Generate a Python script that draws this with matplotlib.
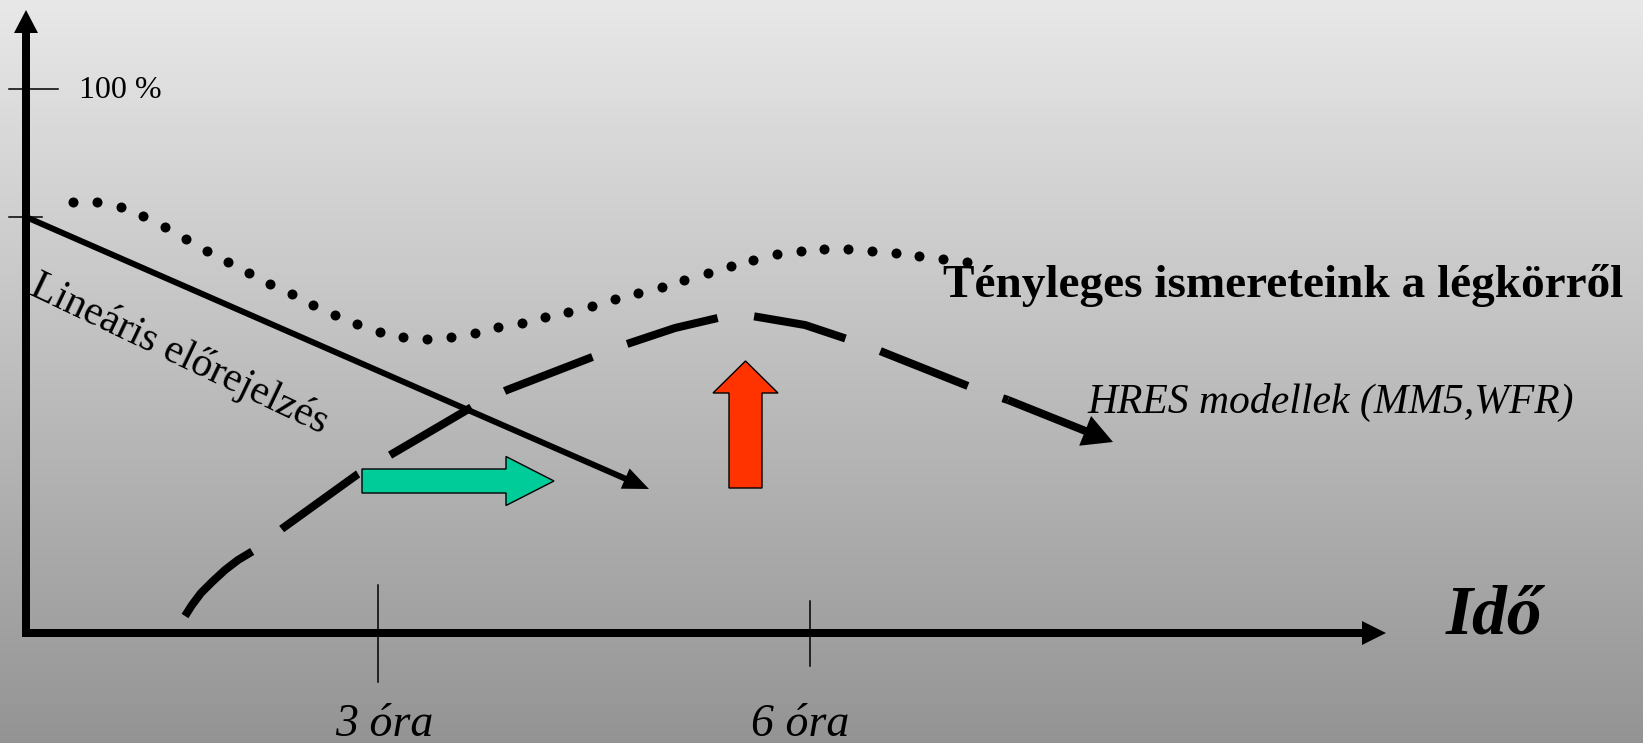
import numpy as np
import matplotlib
matplotlib.use("Agg")
import matplotlib.pyplot as plt

# canvas is in reference pixels (y down)
W, H = 1643, 743

# dotted curve: "Tényleges ismereteink a légkörről"
dots_x = [73, 97, 121, 143, 165, 186, 207, 228, 249, 270, 292, 313, 335, 357, 380,
          403, 427, 451, 475, 498, 522, 545, 568, 592, 615, 638, 662, 684, 708, 731,
          753, 777, 801, 824, 848, 872, 896, 919, 943, 967]
dots_y = [202, 202, 207, 216, 227, 239, 251, 262, 273, 284, 294, 305, 315, 324, 332,
          337, 339, 337, 333, 327, 323, 317, 312, 306, 299, 293, 287, 280, 273, 266,
          260, 254, 251, 249, 249, 251, 253, 256, 259, 262]

# dashed curve: HRES modellek (centre line)
hres_x = [185, 192, 201, 212, 225, 238, 253, 268, 283, 358, 375, 392, 472, 490, 507,
          595, 612, 630, 675, 722, 740, 758, 805, 850, 868, 885, 973, 990, 1008]
hres_y = [616, 605, 593, 582, 570, 560, 551, 540, 528, 474, 464, 454, 407, 398, 390,
          356, 349, 343, 328, 317, 314, 317, 325, 340, 346, 353, 388, 394, 400]
hres_tip = (1113, 442)

# linear forecast
lin_start = (26, 217)
lin_end = (649, 489)

# axes
origin = (26, 633)
x_end = 1386
y_end = 10
y_ticks = [89, 217]
y_tick_len = [49, 33]
x_ticks = [378, 810]
x_tick_top = [585, 601]
x_tick_bot = [682, 666]
x_labels = ["3 óra", "6 óra"]
x_label_pos = [384, 800]

fig = plt.figure(figsize=(W / 100, H / 100), dpi=100)
ax = fig.add_axes([0, 0, 1, 1])
ax.set_xlim(0, W)
ax.set_ylim(H, 0)
ax.axis("off")

# grey vertical gradient
grad = np.linspace(0.91, 0.58, 256).reshape(-1, 1)
ax.imshow(np.dstack([grad, grad, grad]), extent=(0, W, H, 0), aspect="auto", zorder=0)

serif = "Liberation Serif"

# axes arrows
ax.arrow(origin[0], origin[1] + 4, 0, y_end - origin[1] - 4, width=8, head_width=24,
         head_length=23, length_includes_head=True, fc="black", ec="none", zorder=3)
ax.arrow(origin[0] - 4, origin[1], x_end - origin[0] + 4, 0, width=8, head_width=24,
         head_length=24, length_includes_head=True, fc="black", ec="none", zorder=3)

for yt, ln in zip(y_ticks, y_tick_len):
    ax.plot([9, 9 + ln], [yt, yt], color="black", lw=1.1, zorder=3)
for xt, t0, t1 in zip(x_ticks, x_tick_top, x_tick_bot):
    ax.plot([xt, xt], [t0, t1], color="black", lw=1.1, zorder=3)
for lab, xp in zip(x_labels, x_label_pos):
    ax.text(xp, 736, lab, family=serif, style="italic", fontsize=33,
            ha="center", va="baseline")

ax.text(79, 98, "100 %", family=serif, fontsize=23, ha="left", va="baseline")
ax.text(1446, 633, "Idő", family=serif, style="italic", weight="bold", fontsize=50,
        ha="left", va="baseline")

# linear forecast arrow
ax.arrow(lin_start[0], lin_start[1], lin_end[0] - lin_start[0], lin_end[1] - lin_start[1],
         width=6, head_width=22, head_length=26, length_includes_head=True,
         fc="black", ec="none", zorder=4)
ax.text(28, 294, "Lineáris előrejelzés", family=serif, fontsize=30, rotation=-25.5,
        rotation_mode="anchor", ha="left", va="baseline")

# HRES dashed curve + arrow
ax.plot(hres_x, hres_y, color="black", lw=5.8, dashes=(11.7, 4.6),
        solid_capstyle="butt", dash_capstyle="butt", solid_joinstyle="round", zorder=4)
ax.arrow(hres_x[-1], hres_y[-1], hres_tip[0] - hres_x[-1], hres_tip[1] - hres_y[-1],
         width=8, head_width=32, head_length=30, length_includes_head=True,
         fc="black", ec="none", zorder=4)
ax.text(1087, 413, "HRES modellek (MM5,WFR)", family=serif, style="italic",
        fontsize=30, ha="left", va="baseline")

# dotted curve
ax.scatter(dots_x, dots_y, s=52, color="black", linewidths=0, zorder=4)
ax.text(943, 297, "Tényleges ismereteink a légkörről", family=serif, weight="bold",
        fontsize=34, ha="left", va="baseline", zorder=5)

# block arrows
ax.arrow(362, 481, 192, 0, width=24, head_width=49, head_length=48,
         length_includes_head=True, fc="#00CC99", ec="black", lw=1, zorder=5)
ax.arrow(745.5, 488, 0, -127, width=33, head_width=65, head_length=32,
         length_includes_head=True, fc="#FF3300", ec="black", lw=1, zorder=5)

fig.savefig("out.png", dpi=100)
